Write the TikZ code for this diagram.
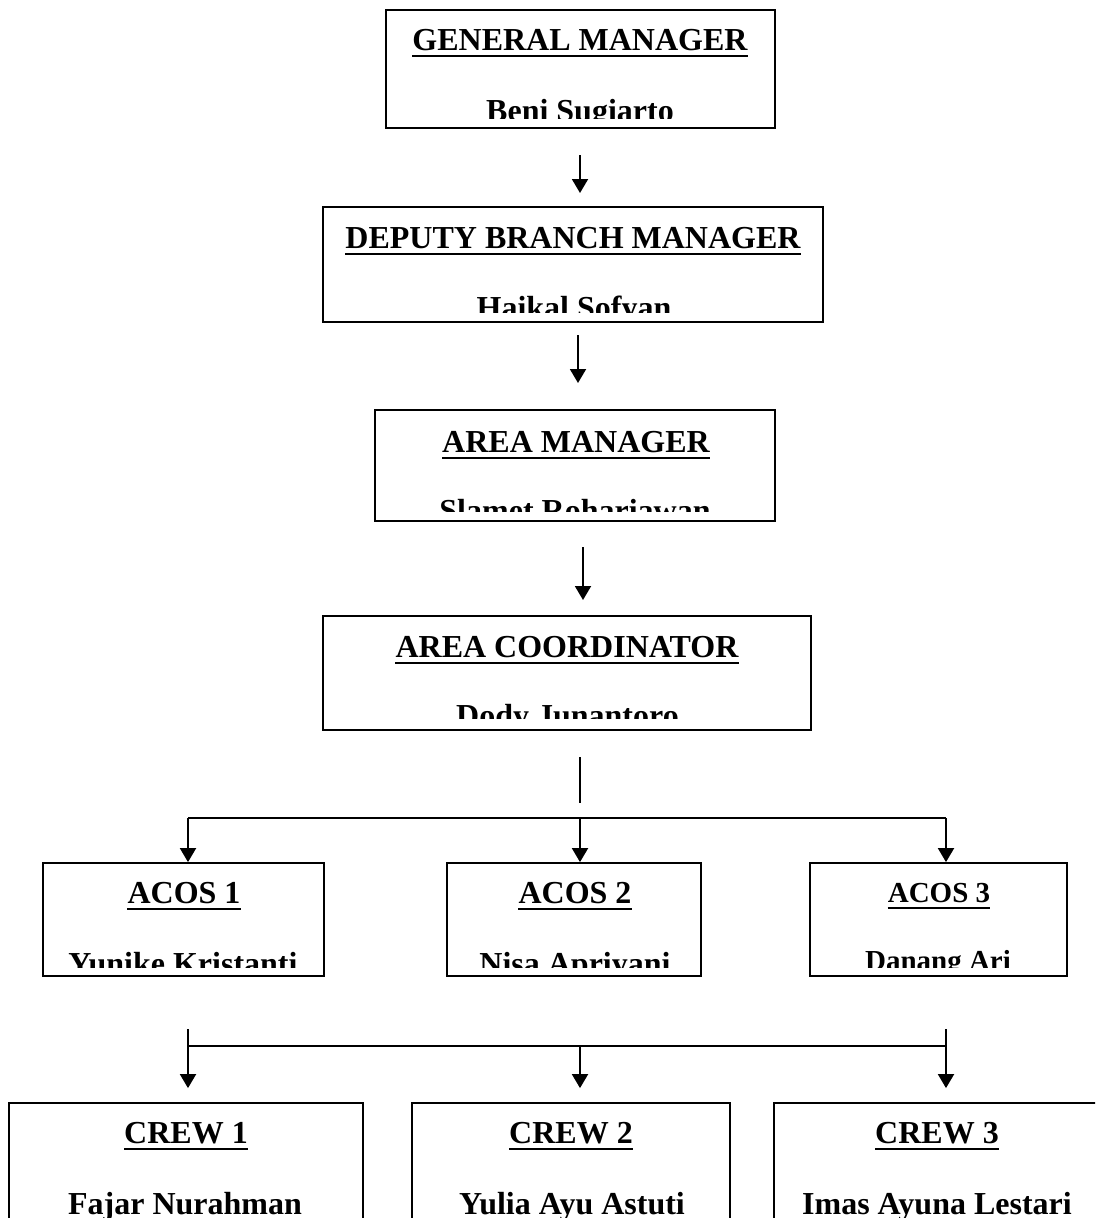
\documentclass[tikz,border=0pt]{standalone}
\usepackage{fontspec}
\setmainfont{Liberation Serif}
\usetikzlibrary{arrows.meta}
\begin{document}
\begin{tikzpicture}[x=1pt,y=-1pt,
  orgbox/.style={draw, line width=1.8pt, inner sep=0pt},
  ttl/.style={font=\fontsize{32}{38}\selectfont\bfseries, inner sep=0pt, anchor=base},
  ttlsmall/.style={font=\fontsize{29}{34}\selectfont\bfseries, inner sep=0pt, anchor=base},
  uline/.style={line width=2.6pt},
  link/.style={line width=1.9pt},
  arr/.style={line width=1.9pt, -{Triangle[length=14pt,width=16pt]}}]
\clip (0,0) rectangle (1095,1218);
\fill[white] (0,0) rectangle (1095,1218);
% ---------- boxes ----------
\node[orgbox, minimum width=389pt, minimum height=118pt] (gm) at (580.5,69) {};
\node[orgbox, minimum width=500pt, minimum height=115pt] (dbm) at (573,264.5) {};
\node[orgbox, minimum width=400pt, minimum height=111pt] (am) at (575,465.5) {};
\node[orgbox, minimum width=488pt, minimum height=114pt] (ac) at (567,673) {};
\node[orgbox, minimum width=281pt, minimum height=113pt] (acos1) at (183.5,919.5) {};
\node[orgbox, minimum width=254pt, minimum height=113pt] (acos2) at (574,919.5) {};
\node[orgbox, minimum width=257pt, minimum height=113pt] (acos3) at (938.5,919.5) {};
\node[orgbox, minimum width=354pt, minimum height=150pt] (crew1) at (186,1178) {};
\node[orgbox, minimum width=318pt, minimum height=150pt] (crew2) at (571,1178) {};
\node[orgbox, minimum width=326pt, minimum height=150pt] (crew3) at (937,1178) {};
% ---------- titles ----------
\node[ttl] (tgm) at (580,50) {GENERAL MANAGER};
\node[ttl] (tdbm) at (573,248) {DEPUTY BRANCH MANAGER};
\node[ttl] (tam) at (576,452) {AREA MANAGER};
\node[ttl] (tac) at (567,657) {AREA COORDINATOR};
\node[ttl] (tacos1) at (184,903) {ACOS 1};
\node[ttl] (tacos2) at (575,903) {ACOS 2};
\node[ttlsmall] (tacos3) at (939,902) {ACOS 3};
\node[ttl] (tcrew1) at (186,1143) {CREW 1};
\node[ttl] (tcrew2) at (571,1143) {CREW 2};
\node[ttl] (tcrew3) at (937,1143) {CREW 3};
\foreach \t in {tgm,tdbm,tam,tac,tacos1,tacos2,tacos3,tcrew1,tcrew2,tcrew3}
  \draw[uline] ([yshift=-6pt]\t.base west) -- ([yshift=-6pt]\t.base east);
% ---------- names (clipped by the box) ----------
\begin{scope}
  \clip (386,10) rectangle (775,118);
  \node[ttl] (ngm) at (580,121) {Beni Sugiarto};
\end{scope}
\begin{scope}
  \clip (323,207) rectangle (823,312);
  \node[ttl] (ndbm) at (574,318) {Haikal Sofyan};
\end{scope}
\begin{scope}
  \clip (375,410) rectangle (775,511);
  \node[ttl] (nam) at (575,521) {Slamet Rohariawan};
\end{scope}
\begin{scope}
  \clip (323,616) rectangle (811,718);
  \node[ttl] (nac) at (567.5,726) {Dody Junantoro};
\end{scope}
\begin{scope}
  \clip (43,863) rectangle (1067,967);
  \node[ttl] (nacos1) at (183,974) {Yunike Kristanti};
  \node[ttl] (nacos2) at (575,974) {Nisa Apriyani};
  \node[ttlsmall] (nacos3) at (938,970) {Danang Ari};
\end{scope}
\node[ttl] (ncrew1) at (185,1214) {Fajar Nurahman};
\node[ttl] (ncrew2) at (572,1214) {Yulia Ayu Astuti};
\node[ttl] (ncrew3) at (937,1214) {Imas Ayuna Lestari};
% ---------- connector end points ----------
\coordinate (a1s) at (580,155);  \coordinate (a1e) at (580,193);
\coordinate (a2s) at (578,335);  \coordinate (a2e) at (578,383);
\coordinate (a3s) at (583,547);  \coordinate (a3e) at (583,600);
\coordinate (l4s) at (580,757);  \coordinate (l4e) at (580,803);
\coordinate (b1l) at (188,818);  \coordinate (b1m) at (580,818);  \coordinate (b1r) at (946,818);
\coordinate (v2l) at (188,1029); \coordinate (v2r) at (946,1029);
\coordinate (b2l) at (188,1046); \coordinate (b2m) at (580,1046); \coordinate (b2r) at (946,1046);
% ---------- connectors ----------
\draw[arr] (a1s) -- (a1e);
\draw[arr] (a2s) -- (a2e);
\draw[arr] (a3s) -- (a3e);
\draw[link] (l4s) -- (l4e);
\draw[link] (b1l) -- (b1r);
\draw[arr] (b1l) -- (acos1.north -| b1l);
\draw[arr] (b1m) -- (acos2.north -| b1m);
\draw[arr] (b1r) -- (acos3.north -| b1r);
\draw[link] (b2l) -- (b2r);
\draw[arr] (v2l) -- ([yshift=14pt]crew1.north -| v2l);
\draw[arr] (b2m) -- ([yshift=14pt]crew2.north -| b2m);
\draw[arr] (v2r) -- ([yshift=14pt]crew3.north -| v2r);
\end{tikzpicture}
\end{document}
